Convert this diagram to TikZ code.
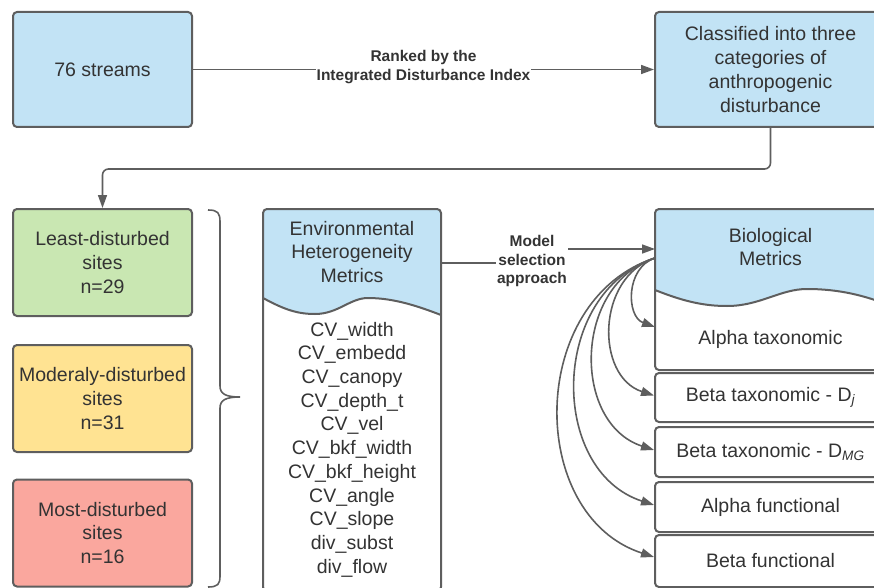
\documentclass[tikz,border=0pt]{standalone}
\usepackage{fontspec}
\setmainfont{Liberation Sans}
\usetikzlibrary{arrows.meta}
\definecolor{linegray}{RGB}{94,94,94}
\definecolor{txtgray}{RGB}{51,51,51}
\definecolor{hdrblue}{RGB}{194,227,245}
\definecolor{lowgreen}{RGB}{201,231,178}
\definecolor{midyellow}{RGB}{255,227,146}
\definecolor{highred}{RGB}{250,167,158}
\newcommand{\mainsz}{\fontsize{19.5}{23.7}\selectfont}
\newcommand{\lblsz}{\fontsize{15.5}{18.5}\selectfont\bfseries}

\begin{document}
\begin{tikzpicture}[
    x=1pt, y=-1pt,
    box/.style={draw=linegray, line width=2pt, rounded corners=4pt, text=txtgray, align=center, font=\mainsz, inner sep=2pt},
    txt/.style={text=txtgray, align=center, font=\mainsz, inner sep=0pt},
    lbl/.style={text=txtgray, align=center, font=\lblsz, fill=white, inner sep=1pt},
    arr/.style={draw=linegray, line width=1.6pt, -{Triangle[length=13pt,width=9pt]}},
    fanarr/.style={arr, looseness=1.15}
    ]
    \useasboundingbox (0,0) rectangle (874,588);
    \clip (0,0) rectangle (874,588);

    % blue headers with the wavy lower edge
    \begin{scope}
      \clip[rounded corners=4pt] (263,209) rectangle (441,591);
      \fill[hdrblue] (263,209) -- (263,298) .. controls (285,310) and (298,314) .. (315,314)
        .. controls (338,314) and (350,298) .. (368,298)
        .. controls (395,298) and (420,307) .. (441,315) -- (441,209) -- cycle;
    \end{scope}
    \begin{scope}
      \clip[rounded corners=4pt] (655,209) rectangle (886,370);
      \fill[hdrblue] (655,209) -- (655,290) .. controls (685,302) and (705,306) .. (727,306)
        .. controls (760,306) and (780,289) .. (807,289)
        .. controls (840,289) and (865,296) .. (886,304) -- (886,209) -- cycle;
    \end{scope}
    \draw[linegray, line width=2pt] (263,298) .. controls (285,310) and (298,314) .. (315,314)
        .. controls (338,314) and (350,298) .. (368,298)
        .. controls (395,298) and (420,307) .. (441,315);
    \draw[linegray, line width=2pt] (655,290) .. controls (685,302) and (705,306) .. (727,306)
        .. controls (760,306) and (780,289) .. (807,289)
        .. controls (840,289) and (865,296) .. (886,304);

    % top row
    \node[box, fill=hdrblue, minimum width=179, minimum height=115] (streams) at (102.5,69.5) {76 streams};
    \node[box, fill=hdrblue, minimum width=231, minimum height=115] (classified) at (770.5,69.5)
      {Classified into three\\categories of\\anthropogenic\\disturbance};

    % disturbance classes
    \node[box, fill=lowgreen, minimum width=179, minimum height=107] (least) at (102.5,262.5) {Least-disturbed\\sites\\n=29};
    \node[box, fill=midyellow, minimum width=179, minimum height=107] (moder) at (102.5,398.5) {Moderaly-disturbed\\sites\\n=31};
    \node[box, fill=highred, minimum width=179, minimum height=107] (most) at (102.5,533) {Most-disturbed\\sites\\n=16};

    % environmental metrics
    \node[box, minimum width=178, minimum height=382] (env) at (352,400) {};
    \node[txt] (envtitle) at (352,252) {Environmental\\Heterogeneity\\Metrics};
    \node[txt] (envlist) at (352,449.5) {CV\_width\\CV\_embedd\\CV\_canopy\\CV\_depth\_t\\CV\_vel\\CV\_bkf\_width\\CV\_bkf\_height\\CV\_angle\\CV\_slope\\div\_subst\\div\_flow};

    % biological metrics
    \node[box, minimum width=231, minimum height=161] (bio) at (770.5,289.5) {};
    \node[txt] (biotitle) at (770.5,247) {Biological\\Metrics};
    \node[txt] (alphatax) at (770.5,339) {Alpha taxonomic};
    \node[box, minimum width=231, minimum height=49] (dj) at (770.5,397.5) {Beta taxonomic - D\textsubscript{\itshape j}};
    \node[box, minimum width=231, minimum height=50] (dmg) at (770.5,452) {Beta taxonomic - D\textsubscript{\itshape MG}};
    \node[box, minimum width=231, minimum height=50] (afun) at (770.5,507) {Alpha functional};
    \node[box, minimum width=231, minimum height=52] (bfun) at (770.5,561) {Beta functional};

    % brace
    \draw[linegray, line width=1.6pt] (208,210) .. controls (218,210) and (220,213) .. (220,222) -- (220,386)
      .. controls (220,394) and (226,397) .. (240,397) .. controls (226,397) and (220,400) .. (220,408)
      -- (220,576) .. controls (220,584) and (218,587) .. (208,587);

    % connectors
    \draw[arr] (streams) -- (classified);
    \node[lbl] (ranked) at (423.5,67) {Ranked by the\\Integrated Disturbance Index};
    \draw[arr, rounded corners=6pt] (classified.south) -- ++(0,41) -| (least.north);

    \coordinate (envout) at (441,263);
    \coordinate (bioin) at (655,249);
    \draw[arr] (envout) -- (532,263) -- (532,249) -- (bioin);
    \node[lbl] (msel) at (532,261) {Model\\selection\\approach};

    \coordinate (fan) at (655,258);
    \coordinate (alphain) at (655,327);
    \draw[fanarr] (fan) to[out=198, in=160] (alphain);
    \draw[fanarr] (fan) to[out=198, in=162] ([yshift=2pt]dj.west);
    \draw[fanarr] (fan) to[out=198, in=162] ([yshift=2pt]dmg.west);
    \draw[fanarr] (fan) to[out=198, in=162] ([yshift=2pt]afun.west);
    \draw[fanarr] (fan) to[out=198, in=162] ([yshift=4pt]bfun.west);
\end{tikzpicture}
\end{document}
